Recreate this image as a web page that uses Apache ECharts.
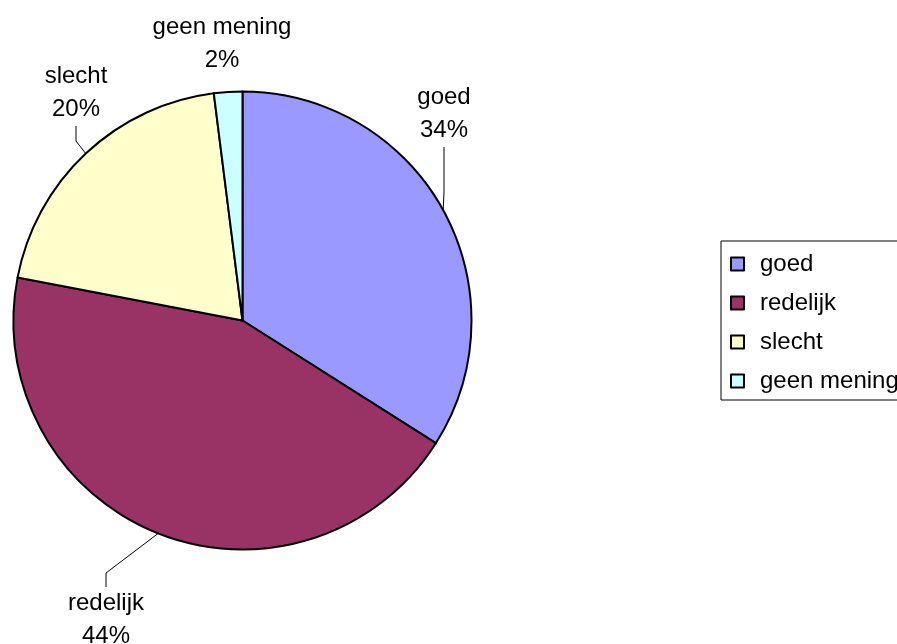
<!DOCTYPE html>
<html>
<head>
<meta charset="utf-8">
<script src="https://cdn.jsdelivr.net/npm/echarts@6/dist/echarts.min.js"></script>
<style>
html,body{margin:0;padding:0;background:#fff;}
#c{width:897px;height:644px;}
</style>
</head>
<body>
<div id="c"></div>
<script>
const categories = ['goed', 'redelijk', 'slecht', 'geen mening'];
const values = [34, 44, 20, 2];
const colors = ['#9999FF', '#993366', '#FFFFCC', '#CCFFFF'];
// label anchor positions (label centres) and guide-line lengths
const labelPos = [[444, 114], [106, 620], [76, 93], [222, 44]];
const guideLen = [45, 14, 15, 0];

const chart = echarts.init(document.getElementById('c'), null, {renderer: 'canvas'});
const font = '"Liberation Sans", Arial, sans-serif';

chart.setOption({
  animation: false,
  backgroundColor: '#ffffff',
  legend: {
    orient: 'vertical',
    left: 721,
    top: 241,
    padding: [11, 12, 7, 9],
    itemGap: 15,
    itemWidth: 13,
    itemHeight: 13,
    icon: 'rect',
    borderColor: '#000',
    borderWidth: 1,
    data: categories,
    itemStyle: {borderColor: '#000', borderWidth: 2},
    textStyle: {fontFamily: font, fontSize: 24, color: '#000', lineHeight: 24, padding: [0, 0, 0, 11]}
  },
  series: [{
    type: 'pie',
    center: [242.5, 320.5],
    radius: [0, 229],
    startAngle: 90,
    clockwise: true,
    avoidLabelOverlap: false,
    itemStyle: {borderColor: '#000', borderWidth: 2},
    emphasis: {disabled: true},
    label: {
      show: true,
      position: 'outside',
      formatter: '{b}\n{d}%',
      fontFamily: font,
      fontSize: 24,
      lineHeight: 33,
      color: '#000',
      align: 'center'
    },
    labelLine: {show: true, length: 10, length2: 15, lineStyle: {color: '#000', width: 1}, smooth: false},
    labelLayout: function (p) {
      const i = p.dataIndex;
      return {x: labelPos[i][0], y: labelPos[i][1], align: 'center', verticalAlign: 'middle'};
    },
    data: categories.map((n, i) => ({
      name: n,
      value: values[i],
      itemStyle: {color: colors[i]},
      labelLine: {show: guideLen[i] > 0, length2: guideLen[i]}
    }))
  }]
});
</script>
</body>
</html>
